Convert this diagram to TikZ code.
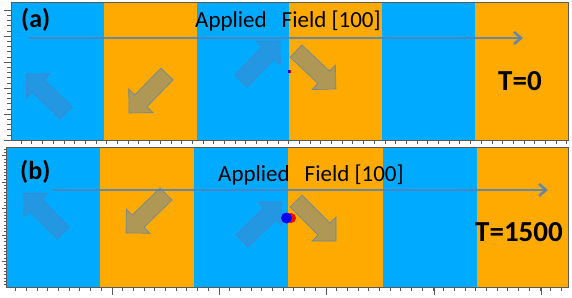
\documentclass[tikz,border=0pt]{standalone}
\usepackage{fontspec}
\setmainfont{Carlito}
\usetikzlibrary{calc,arrows.meta}
\definecolor{stripeblue}{RGB}{0,170,255}
\definecolor{stripeorange}{RGB}{255,170,0}
\definecolor{spinblue}{RGB}{79,129,189}
\definecolor{tickgray}{RGB}{90,90,90}

\begin{document}
\begin{tikzpicture}[x=1pt,y=-1pt,
  spin/.style={fill=spinblue, fill opacity=0.45, draw=spinblue, draw opacity=0.8, line width=0.6pt},
  field/.style={draw=spinblue, draw opacity=0.85, line width=2.6pt, -{Straight Barb[length=7pt,width=12pt]}},
  frame/.style={draw=tickgray, line width=0.7pt},
  tick/.style={draw=tickgray, line width=0.5pt},
  label/.style={anchor=base west, inner sep=0pt, font=\fontsize{23}{27}\selectfont},
  tag/.style={anchor=base west, inner sep=0pt, font=\fontsize{26}{30}\selectfont\bfseries},
  temp/.style={anchor=base west, inner sep=0pt, font=\fontsize{29}{33}\selectfont\bfseries}]

  \useasboundingbox (0,0) rectangle (572,297);
  \fill[white] (0,0) rectangle (572,297);

  % Domain stripes
  \foreach \xa/\xb/\c in {11/104/stripeblue, 104/197/stripeorange, 197/289/stripeblue,
                          289/382/stripeorange, 382/475/stripeblue, 475/568/stripeorange}
    \fill[\c] (\xa,2) rectangle (\xb,140);
  \foreach \xa/\xb/\c in {6/100/stripeblue, 100/194/stripeorange, 194/288/stripeblue,
                          288/383/stripeorange, 383/477/stripeblue, 477/568/stripeorange}
    \fill[\c] (\xa,147) rectangle (\xb,287);

  % Frames and ticks
  \draw[frame] (11,2) rectangle (568,140);
  \draw[frame] (6,147) rectangle (568,287);
  \foreach \y in {10,15.2,...,140} \draw[tick] (7,\y) -- (11,\y);
  \foreach \y in {10,36,...,140} \draw[tick] (4,\y) -- (11,\y);
  \foreach \x in {21,31.7,...,568} \draw[tick] (\x,140) -- (\x,143.5);
  \foreach \y in {149.1,152.4,...,287} \draw[tick] (3.5,\y) -- (6,\y);
  \foreach \y in {155.7,182.2,...,287} \draw[tick] (1.5,\y) -- (6,\y);
  \foreach \x in {15.5,26.2,...,568} \draw[tick] (\x,287) -- (\x,290.5);
  \foreach \x in {112,219.25,...,560} \draw[tick] (\x,287) -- (\x,295);

  % Magnetisation arrows (tail / tip)
  \foreach \ax/\ay/\bx/\by in {66/113/26/74, 167/74/129/113, 241/81/280/41, 296/51/336/89,
                               63/233/24/193, 166/194/126/233, 242/241/282/202, 296/201/336/241} {
    \coordinate (A) at (\ax,\ay);
    \coordinate (B) at (\bx,\by);
    \coordinate (H) at ($(B)!17pt!(A)$);
    \filldraw[spin] ($(A)!8.5pt!90:(B)$) -- ($(H)!8.5pt!90:(B)$) -- ($(H)!17pt!90:(B)$)
      -- (B) -- ($(H)!17pt!-90:(B)$) -- ($(H)!8.5pt!-90:(B)$) -- ($(A)!8.5pt!-90:(B)$) -- cycle;
  }

  % Applied field
  \coordinate (fa0) at (29,38);
  \coordinate (fa1) at (523,38);
  \coordinate (fb0) at (53,190);
  \coordinate (fb1) at (548,190);
  \draw[field] (fa0) -- (fa1);
  \draw[field] (fb0) -- (fb1);

  % Wall markers
  \fill[blue] (287.5,69.5) rectangle (289.5,72.5);
  \fill[red] (289.5,69.5) rectangle (291,72.5);
  \fill[red] (291,218) circle (5);
  \fill[blue] (286.5,218) circle (5.5);

  % Labels
  \node[tag] (taga) at (21,27) {(a)};
  \node[tag] (tagb) at (20,179) {(b)};
  \node[label] (fielda) at (195,27) {Applied\hspace{15pt}Field [100]};
  \node[label] (fieldb) at (218,181.5) {Applied\hspace{15pt}Field [100]};
  \node[temp] (tempa) at (498,90.5) {T=0};
  \node[temp] (tempb) at (475,241) {T=1500};

\end{tikzpicture}
\end{document}
